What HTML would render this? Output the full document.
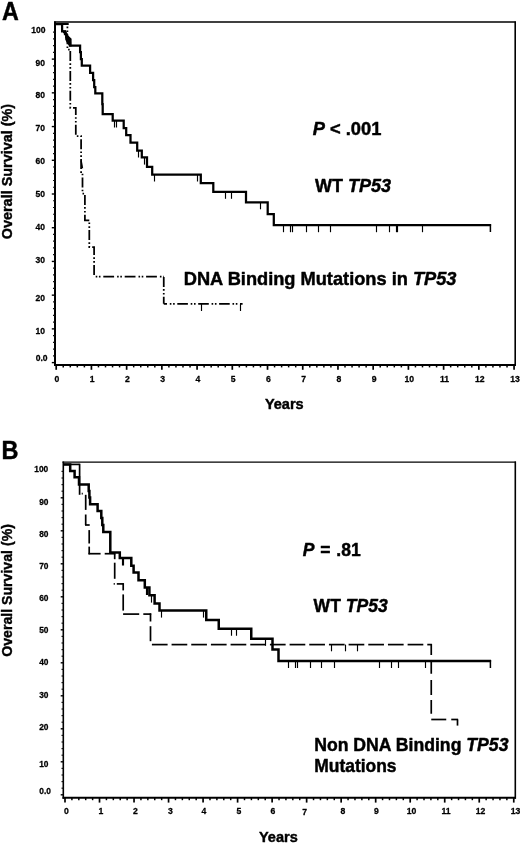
<!DOCTYPE html>
<html><head><meta charset="utf-8"><title>Kaplan-Meier overall survival</title>
<style>html,body{margin:0;padding:0;background:#fff}body{width:520px;height:843px;overflow:hidden;font-family:"Liberation Sans", sans-serif}svg{display:block;filter:grayscale(1) blur(0.3px)}</style>
</head><body>
<svg width="520" height="843" viewBox="0 0 520 843" font-family='"Liberation Sans", sans-serif' fill="#000">
<rect width="520" height="843" fill="#fff"/>
<line x1="54.00" y1="22.10" x2="515.90" y2="22.10" stroke="#000" stroke-width="1.5" />
<line x1="515.20" y1="21.40" x2="515.20" y2="366.00" stroke="#000" stroke-width="1.6" />
<line x1="55.00" y1="21.60" x2="55.00" y2="366.00" stroke="#000" stroke-width="2.0" />
<line x1="54.00" y1="365.00" x2="515.80" y2="365.00" stroke="#000" stroke-width="2.0" />
<line x1="56.20" y1="365.00" x2="56.20" y2="369.80" stroke="#000" stroke-width="1.7" />
<line x1="63.24" y1="365.00" x2="63.24" y2="367.40" stroke="#000" stroke-width="1.5" />
<line x1="70.29" y1="365.00" x2="70.29" y2="367.40" stroke="#000" stroke-width="1.5" />
<line x1="77.33" y1="365.00" x2="77.33" y2="367.40" stroke="#000" stroke-width="1.5" />
<line x1="84.38" y1="365.00" x2="84.38" y2="367.40" stroke="#000" stroke-width="1.5" />
<line x1="91.42" y1="365.00" x2="91.42" y2="369.80" stroke="#000" stroke-width="1.7" />
<line x1="98.46" y1="365.00" x2="98.46" y2="367.40" stroke="#000" stroke-width="1.5" />
<line x1="105.51" y1="365.00" x2="105.51" y2="367.40" stroke="#000" stroke-width="1.5" />
<line x1="112.55" y1="365.00" x2="112.55" y2="367.40" stroke="#000" stroke-width="1.5" />
<line x1="119.60" y1="365.00" x2="119.60" y2="367.40" stroke="#000" stroke-width="1.5" />
<line x1="126.64" y1="365.00" x2="126.64" y2="369.80" stroke="#000" stroke-width="1.7" />
<line x1="133.68" y1="365.00" x2="133.68" y2="367.40" stroke="#000" stroke-width="1.5" />
<line x1="140.73" y1="365.00" x2="140.73" y2="367.40" stroke="#000" stroke-width="1.5" />
<line x1="147.77" y1="365.00" x2="147.77" y2="367.40" stroke="#000" stroke-width="1.5" />
<line x1="154.82" y1="365.00" x2="154.82" y2="367.40" stroke="#000" stroke-width="1.5" />
<line x1="161.86" y1="365.00" x2="161.86" y2="369.80" stroke="#000" stroke-width="1.7" />
<line x1="168.90" y1="365.00" x2="168.90" y2="367.40" stroke="#000" stroke-width="1.5" />
<line x1="175.95" y1="365.00" x2="175.95" y2="367.40" stroke="#000" stroke-width="1.5" />
<line x1="182.99" y1="365.00" x2="182.99" y2="367.40" stroke="#000" stroke-width="1.5" />
<line x1="190.04" y1="365.00" x2="190.04" y2="367.40" stroke="#000" stroke-width="1.5" />
<line x1="197.08" y1="365.00" x2="197.08" y2="369.80" stroke="#000" stroke-width="1.7" />
<line x1="204.12" y1="365.00" x2="204.12" y2="367.40" stroke="#000" stroke-width="1.5" />
<line x1="211.17" y1="365.00" x2="211.17" y2="367.40" stroke="#000" stroke-width="1.5" />
<line x1="218.21" y1="365.00" x2="218.21" y2="367.40" stroke="#000" stroke-width="1.5" />
<line x1="225.26" y1="365.00" x2="225.26" y2="367.40" stroke="#000" stroke-width="1.5" />
<line x1="232.30" y1="365.00" x2="232.30" y2="369.80" stroke="#000" stroke-width="1.7" />
<line x1="239.34" y1="365.00" x2="239.34" y2="367.40" stroke="#000" stroke-width="1.5" />
<line x1="246.39" y1="365.00" x2="246.39" y2="367.40" stroke="#000" stroke-width="1.5" />
<line x1="253.43" y1="365.00" x2="253.43" y2="367.40" stroke="#000" stroke-width="1.5" />
<line x1="260.48" y1="365.00" x2="260.48" y2="367.40" stroke="#000" stroke-width="1.5" />
<line x1="267.52" y1="365.00" x2="267.52" y2="369.80" stroke="#000" stroke-width="1.7" />
<line x1="274.56" y1="365.00" x2="274.56" y2="367.40" stroke="#000" stroke-width="1.5" />
<line x1="281.61" y1="365.00" x2="281.61" y2="367.40" stroke="#000" stroke-width="1.5" />
<line x1="288.65" y1="365.00" x2="288.65" y2="367.40" stroke="#000" stroke-width="1.5" />
<line x1="295.70" y1="365.00" x2="295.70" y2="367.40" stroke="#000" stroke-width="1.5" />
<line x1="302.74" y1="365.00" x2="302.74" y2="369.80" stroke="#000" stroke-width="1.7" />
<line x1="309.78" y1="365.00" x2="309.78" y2="367.40" stroke="#000" stroke-width="1.5" />
<line x1="316.83" y1="365.00" x2="316.83" y2="367.40" stroke="#000" stroke-width="1.5" />
<line x1="323.87" y1="365.00" x2="323.87" y2="367.40" stroke="#000" stroke-width="1.5" />
<line x1="330.92" y1="365.00" x2="330.92" y2="367.40" stroke="#000" stroke-width="1.5" />
<line x1="337.96" y1="365.00" x2="337.96" y2="369.80" stroke="#000" stroke-width="1.7" />
<line x1="345.00" y1="365.00" x2="345.00" y2="367.40" stroke="#000" stroke-width="1.5" />
<line x1="352.05" y1="365.00" x2="352.05" y2="367.40" stroke="#000" stroke-width="1.5" />
<line x1="359.09" y1="365.00" x2="359.09" y2="367.40" stroke="#000" stroke-width="1.5" />
<line x1="366.14" y1="365.00" x2="366.14" y2="367.40" stroke="#000" stroke-width="1.5" />
<line x1="373.18" y1="365.00" x2="373.18" y2="369.80" stroke="#000" stroke-width="1.7" />
<line x1="380.22" y1="365.00" x2="380.22" y2="367.40" stroke="#000" stroke-width="1.5" />
<line x1="387.27" y1="365.00" x2="387.27" y2="367.40" stroke="#000" stroke-width="1.5" />
<line x1="394.31" y1="365.00" x2="394.31" y2="367.40" stroke="#000" stroke-width="1.5" />
<line x1="401.36" y1="365.00" x2="401.36" y2="367.40" stroke="#000" stroke-width="1.5" />
<line x1="408.40" y1="365.00" x2="408.40" y2="369.80" stroke="#000" stroke-width="1.7" />
<line x1="415.44" y1="365.00" x2="415.44" y2="367.40" stroke="#000" stroke-width="1.5" />
<line x1="422.49" y1="365.00" x2="422.49" y2="367.40" stroke="#000" stroke-width="1.5" />
<line x1="429.53" y1="365.00" x2="429.53" y2="367.40" stroke="#000" stroke-width="1.5" />
<line x1="436.58" y1="365.00" x2="436.58" y2="367.40" stroke="#000" stroke-width="1.5" />
<line x1="443.62" y1="365.00" x2="443.62" y2="369.80" stroke="#000" stroke-width="1.7" />
<line x1="450.66" y1="365.00" x2="450.66" y2="367.40" stroke="#000" stroke-width="1.5" />
<line x1="457.71" y1="365.00" x2="457.71" y2="367.40" stroke="#000" stroke-width="1.5" />
<line x1="464.75" y1="365.00" x2="464.75" y2="367.40" stroke="#000" stroke-width="1.5" />
<line x1="471.80" y1="365.00" x2="471.80" y2="367.40" stroke="#000" stroke-width="1.5" />
<line x1="478.84" y1="365.00" x2="478.84" y2="369.80" stroke="#000" stroke-width="1.7" />
<line x1="485.88" y1="365.00" x2="485.88" y2="367.40" stroke="#000" stroke-width="1.5" />
<line x1="492.93" y1="365.00" x2="492.93" y2="367.40" stroke="#000" stroke-width="1.5" />
<line x1="499.97" y1="365.00" x2="499.97" y2="367.40" stroke="#000" stroke-width="1.5" />
<line x1="507.02" y1="365.00" x2="507.02" y2="367.40" stroke="#000" stroke-width="1.5" />
<line x1="514.06" y1="365.00" x2="514.06" y2="369.80" stroke="#000" stroke-width="1.7" />
<line x1="53.00" y1="32.14" x2="55.00" y2="32.14" stroke="#111" stroke-width="1.2" />
<line x1="53.00" y1="38.89" x2="55.00" y2="38.89" stroke="#111" stroke-width="1.2" />
<line x1="53.00" y1="45.63" x2="55.00" y2="45.63" stroke="#111" stroke-width="1.2" />
<line x1="53.00" y1="52.38" x2="55.00" y2="52.38" stroke="#111" stroke-width="1.2" />
<line x1="51.80" y1="59.12" x2="55.00" y2="59.12" stroke="#000" stroke-width="1.4" />
<line x1="53.00" y1="65.86" x2="55.00" y2="65.86" stroke="#111" stroke-width="1.2" />
<line x1="53.00" y1="72.61" x2="55.00" y2="72.61" stroke="#111" stroke-width="1.2" />
<line x1="53.00" y1="79.35" x2="55.00" y2="79.35" stroke="#111" stroke-width="1.2" />
<line x1="53.00" y1="86.10" x2="55.00" y2="86.10" stroke="#111" stroke-width="1.2" />
<line x1="51.80" y1="92.84" x2="55.00" y2="92.84" stroke="#000" stroke-width="1.4" />
<line x1="53.00" y1="99.58" x2="55.00" y2="99.58" stroke="#111" stroke-width="1.2" />
<line x1="53.00" y1="106.33" x2="55.00" y2="106.33" stroke="#111" stroke-width="1.2" />
<line x1="53.00" y1="113.07" x2="55.00" y2="113.07" stroke="#111" stroke-width="1.2" />
<line x1="53.00" y1="119.82" x2="55.00" y2="119.82" stroke="#111" stroke-width="1.2" />
<line x1="51.80" y1="126.56" x2="55.00" y2="126.56" stroke="#000" stroke-width="1.4" />
<line x1="53.00" y1="133.30" x2="55.00" y2="133.30" stroke="#111" stroke-width="1.2" />
<line x1="53.00" y1="140.05" x2="55.00" y2="140.05" stroke="#111" stroke-width="1.2" />
<line x1="53.00" y1="146.79" x2="55.00" y2="146.79" stroke="#111" stroke-width="1.2" />
<line x1="53.00" y1="153.54" x2="55.00" y2="153.54" stroke="#111" stroke-width="1.2" />
<line x1="51.80" y1="160.28" x2="55.00" y2="160.28" stroke="#000" stroke-width="1.4" />
<line x1="53.00" y1="167.02" x2="55.00" y2="167.02" stroke="#111" stroke-width="1.2" />
<line x1="53.00" y1="173.77" x2="55.00" y2="173.77" stroke="#111" stroke-width="1.2" />
<line x1="53.00" y1="180.51" x2="55.00" y2="180.51" stroke="#111" stroke-width="1.2" />
<line x1="53.00" y1="187.26" x2="55.00" y2="187.26" stroke="#111" stroke-width="1.2" />
<line x1="51.80" y1="194.00" x2="55.00" y2="194.00" stroke="#000" stroke-width="1.4" />
<line x1="53.00" y1="200.74" x2="55.00" y2="200.74" stroke="#111" stroke-width="1.2" />
<line x1="53.00" y1="207.49" x2="55.00" y2="207.49" stroke="#111" stroke-width="1.2" />
<line x1="53.00" y1="214.23" x2="55.00" y2="214.23" stroke="#111" stroke-width="1.2" />
<line x1="53.00" y1="220.98" x2="55.00" y2="220.98" stroke="#111" stroke-width="1.2" />
<line x1="51.80" y1="227.72" x2="55.00" y2="227.72" stroke="#000" stroke-width="1.4" />
<line x1="53.00" y1="234.46" x2="55.00" y2="234.46" stroke="#111" stroke-width="1.2" />
<line x1="53.00" y1="241.21" x2="55.00" y2="241.21" stroke="#111" stroke-width="1.2" />
<line x1="53.00" y1="247.95" x2="55.00" y2="247.95" stroke="#111" stroke-width="1.2" />
<line x1="53.00" y1="254.70" x2="55.00" y2="254.70" stroke="#111" stroke-width="1.2" />
<line x1="51.80" y1="261.44" x2="55.00" y2="261.44" stroke="#000" stroke-width="1.4" />
<line x1="53.00" y1="268.18" x2="55.00" y2="268.18" stroke="#111" stroke-width="1.2" />
<line x1="53.00" y1="274.93" x2="55.00" y2="274.93" stroke="#111" stroke-width="1.2" />
<line x1="53.00" y1="281.67" x2="55.00" y2="281.67" stroke="#111" stroke-width="1.2" />
<line x1="53.00" y1="288.42" x2="55.00" y2="288.42" stroke="#111" stroke-width="1.2" />
<line x1="51.80" y1="295.16" x2="55.00" y2="295.16" stroke="#000" stroke-width="1.4" />
<line x1="53.00" y1="301.90" x2="55.00" y2="301.90" stroke="#111" stroke-width="1.2" />
<line x1="53.00" y1="308.65" x2="55.00" y2="308.65" stroke="#111" stroke-width="1.2" />
<line x1="53.00" y1="315.39" x2="55.00" y2="315.39" stroke="#111" stroke-width="1.2" />
<line x1="53.00" y1="322.14" x2="55.00" y2="322.14" stroke="#111" stroke-width="1.2" />
<line x1="51.80" y1="328.88" x2="55.00" y2="328.88" stroke="#000" stroke-width="1.4" />
<line x1="53.00" y1="335.62" x2="55.00" y2="335.62" stroke="#111" stroke-width="1.2" />
<line x1="53.00" y1="342.37" x2="55.00" y2="342.37" stroke="#111" stroke-width="1.2" />
<line x1="53.00" y1="349.11" x2="55.00" y2="349.11" stroke="#111" stroke-width="1.2" />
<line x1="53.00" y1="355.86" x2="55.00" y2="355.86" stroke="#111" stroke-width="1.2" />
<line x1="51.80" y1="362.60" x2="55.00" y2="362.60" stroke="#000" stroke-width="1.4" />
<line x1="62.50" y1="462.10" x2="516.00" y2="462.10" stroke="#000" stroke-width="1.25" />
<line x1="515.30" y1="461.40" x2="515.30" y2="798.80" stroke="#000" stroke-width="1.6" />
<line x1="63.30" y1="461.60" x2="63.30" y2="798.80" stroke="#000" stroke-width="1.6" />
<line x1="62.50" y1="797.80" x2="515.90" y2="797.80" stroke="#000" stroke-width="2.0" />
<line x1="65.00" y1="797.80" x2="65.00" y2="802.60" stroke="#000" stroke-width="1.7" />
<line x1="71.90" y1="797.80" x2="71.90" y2="800.20" stroke="#000" stroke-width="1.5" />
<line x1="78.81" y1="797.80" x2="78.81" y2="800.20" stroke="#000" stroke-width="1.5" />
<line x1="85.71" y1="797.80" x2="85.71" y2="800.20" stroke="#000" stroke-width="1.5" />
<line x1="92.62" y1="797.80" x2="92.62" y2="800.20" stroke="#000" stroke-width="1.5" />
<line x1="99.52" y1="797.80" x2="99.52" y2="802.60" stroke="#000" stroke-width="1.7" />
<line x1="106.42" y1="797.80" x2="106.42" y2="800.20" stroke="#000" stroke-width="1.5" />
<line x1="113.33" y1="797.80" x2="113.33" y2="800.20" stroke="#000" stroke-width="1.5" />
<line x1="120.23" y1="797.80" x2="120.23" y2="800.20" stroke="#000" stroke-width="1.5" />
<line x1="127.14" y1="797.80" x2="127.14" y2="800.20" stroke="#000" stroke-width="1.5" />
<line x1="134.04" y1="797.80" x2="134.04" y2="802.60" stroke="#000" stroke-width="1.7" />
<line x1="140.94" y1="797.80" x2="140.94" y2="800.20" stroke="#000" stroke-width="1.5" />
<line x1="147.85" y1="797.80" x2="147.85" y2="800.20" stroke="#000" stroke-width="1.5" />
<line x1="154.75" y1="797.80" x2="154.75" y2="800.20" stroke="#000" stroke-width="1.5" />
<line x1="161.66" y1="797.80" x2="161.66" y2="800.20" stroke="#000" stroke-width="1.5" />
<line x1="168.56" y1="797.80" x2="168.56" y2="802.60" stroke="#000" stroke-width="1.7" />
<line x1="175.46" y1="797.80" x2="175.46" y2="800.20" stroke="#000" stroke-width="1.5" />
<line x1="182.37" y1="797.80" x2="182.37" y2="800.20" stroke="#000" stroke-width="1.5" />
<line x1="189.27" y1="797.80" x2="189.27" y2="800.20" stroke="#000" stroke-width="1.5" />
<line x1="196.18" y1="797.80" x2="196.18" y2="800.20" stroke="#000" stroke-width="1.5" />
<line x1="203.08" y1="797.80" x2="203.08" y2="802.60" stroke="#000" stroke-width="1.7" />
<line x1="209.98" y1="797.80" x2="209.98" y2="800.20" stroke="#000" stroke-width="1.5" />
<line x1="216.89" y1="797.80" x2="216.89" y2="800.20" stroke="#000" stroke-width="1.5" />
<line x1="223.79" y1="797.80" x2="223.79" y2="800.20" stroke="#000" stroke-width="1.5" />
<line x1="230.70" y1="797.80" x2="230.70" y2="800.20" stroke="#000" stroke-width="1.5" />
<line x1="237.60" y1="797.80" x2="237.60" y2="802.60" stroke="#000" stroke-width="1.7" />
<line x1="244.50" y1="797.80" x2="244.50" y2="800.20" stroke="#000" stroke-width="1.5" />
<line x1="251.41" y1="797.80" x2="251.41" y2="800.20" stroke="#000" stroke-width="1.5" />
<line x1="258.31" y1="797.80" x2="258.31" y2="800.20" stroke="#000" stroke-width="1.5" />
<line x1="265.22" y1="797.80" x2="265.22" y2="800.20" stroke="#000" stroke-width="1.5" />
<line x1="272.12" y1="797.80" x2="272.12" y2="802.60" stroke="#000" stroke-width="1.7" />
<line x1="279.02" y1="797.80" x2="279.02" y2="800.20" stroke="#000" stroke-width="1.5" />
<line x1="285.93" y1="797.80" x2="285.93" y2="800.20" stroke="#000" stroke-width="1.5" />
<line x1="292.83" y1="797.80" x2="292.83" y2="800.20" stroke="#000" stroke-width="1.5" />
<line x1="299.74" y1="797.80" x2="299.74" y2="800.20" stroke="#000" stroke-width="1.5" />
<line x1="306.64" y1="797.80" x2="306.64" y2="802.60" stroke="#000" stroke-width="1.7" />
<line x1="313.54" y1="797.80" x2="313.54" y2="800.20" stroke="#000" stroke-width="1.5" />
<line x1="320.45" y1="797.80" x2="320.45" y2="800.20" stroke="#000" stroke-width="1.5" />
<line x1="327.35" y1="797.80" x2="327.35" y2="800.20" stroke="#000" stroke-width="1.5" />
<line x1="334.26" y1="797.80" x2="334.26" y2="800.20" stroke="#000" stroke-width="1.5" />
<line x1="341.16" y1="797.80" x2="341.16" y2="802.60" stroke="#000" stroke-width="1.7" />
<line x1="348.06" y1="797.80" x2="348.06" y2="800.20" stroke="#000" stroke-width="1.5" />
<line x1="354.97" y1="797.80" x2="354.97" y2="800.20" stroke="#000" stroke-width="1.5" />
<line x1="361.87" y1="797.80" x2="361.87" y2="800.20" stroke="#000" stroke-width="1.5" />
<line x1="368.78" y1="797.80" x2="368.78" y2="800.20" stroke="#000" stroke-width="1.5" />
<line x1="375.68" y1="797.80" x2="375.68" y2="802.60" stroke="#000" stroke-width="1.7" />
<line x1="382.58" y1="797.80" x2="382.58" y2="800.20" stroke="#000" stroke-width="1.5" />
<line x1="389.49" y1="797.80" x2="389.49" y2="800.20" stroke="#000" stroke-width="1.5" />
<line x1="396.39" y1="797.80" x2="396.39" y2="800.20" stroke="#000" stroke-width="1.5" />
<line x1="403.30" y1="797.80" x2="403.30" y2="800.20" stroke="#000" stroke-width="1.5" />
<line x1="410.20" y1="797.80" x2="410.20" y2="802.60" stroke="#000" stroke-width="1.7" />
<line x1="417.10" y1="797.80" x2="417.10" y2="800.20" stroke="#000" stroke-width="1.5" />
<line x1="424.01" y1="797.80" x2="424.01" y2="800.20" stroke="#000" stroke-width="1.5" />
<line x1="430.91" y1="797.80" x2="430.91" y2="800.20" stroke="#000" stroke-width="1.5" />
<line x1="437.82" y1="797.80" x2="437.82" y2="800.20" stroke="#000" stroke-width="1.5" />
<line x1="444.72" y1="797.80" x2="444.72" y2="802.60" stroke="#000" stroke-width="1.7" />
<line x1="451.62" y1="797.80" x2="451.62" y2="800.20" stroke="#000" stroke-width="1.5" />
<line x1="458.53" y1="797.80" x2="458.53" y2="800.20" stroke="#000" stroke-width="1.5" />
<line x1="465.43" y1="797.80" x2="465.43" y2="800.20" stroke="#000" stroke-width="1.5" />
<line x1="472.34" y1="797.80" x2="472.34" y2="800.20" stroke="#000" stroke-width="1.5" />
<line x1="479.24" y1="797.80" x2="479.24" y2="802.60" stroke="#000" stroke-width="1.7" />
<line x1="486.14" y1="797.80" x2="486.14" y2="800.20" stroke="#000" stroke-width="1.5" />
<line x1="493.05" y1="797.80" x2="493.05" y2="800.20" stroke="#000" stroke-width="1.5" />
<line x1="499.95" y1="797.80" x2="499.95" y2="800.20" stroke="#000" stroke-width="1.5" />
<line x1="506.86" y1="797.80" x2="506.86" y2="800.20" stroke="#000" stroke-width="1.5" />
<line x1="513.76" y1="797.80" x2="513.76" y2="802.60" stroke="#000" stroke-width="1.7" />
<line x1="61.50" y1="471.40" x2="63.30" y2="471.40" stroke="#111" stroke-width="1.2" />
<line x1="61.50" y1="478.00" x2="63.30" y2="478.00" stroke="#111" stroke-width="1.2" />
<line x1="61.50" y1="484.60" x2="63.30" y2="484.60" stroke="#111" stroke-width="1.2" />
<line x1="61.50" y1="491.20" x2="63.30" y2="491.20" stroke="#111" stroke-width="1.2" />
<line x1="60.70" y1="497.80" x2="63.30" y2="497.80" stroke="#000" stroke-width="1.4" />
<line x1="61.50" y1="504.40" x2="63.30" y2="504.40" stroke="#111" stroke-width="1.2" />
<line x1="61.50" y1="511.00" x2="63.30" y2="511.00" stroke="#111" stroke-width="1.2" />
<line x1="61.50" y1="517.60" x2="63.30" y2="517.60" stroke="#111" stroke-width="1.2" />
<line x1="61.50" y1="524.20" x2="63.30" y2="524.20" stroke="#111" stroke-width="1.2" />
<line x1="60.70" y1="530.80" x2="63.30" y2="530.80" stroke="#000" stroke-width="1.4" />
<line x1="61.50" y1="537.40" x2="63.30" y2="537.40" stroke="#111" stroke-width="1.2" />
<line x1="61.50" y1="544.00" x2="63.30" y2="544.00" stroke="#111" stroke-width="1.2" />
<line x1="61.50" y1="550.60" x2="63.30" y2="550.60" stroke="#111" stroke-width="1.2" />
<line x1="61.50" y1="557.20" x2="63.30" y2="557.20" stroke="#111" stroke-width="1.2" />
<line x1="60.70" y1="563.80" x2="63.30" y2="563.80" stroke="#000" stroke-width="1.4" />
<line x1="61.50" y1="570.40" x2="63.30" y2="570.40" stroke="#111" stroke-width="1.2" />
<line x1="61.50" y1="577.00" x2="63.30" y2="577.00" stroke="#111" stroke-width="1.2" />
<line x1="61.50" y1="583.60" x2="63.30" y2="583.60" stroke="#111" stroke-width="1.2" />
<line x1="61.50" y1="590.20" x2="63.30" y2="590.20" stroke="#111" stroke-width="1.2" />
<line x1="60.70" y1="596.80" x2="63.30" y2="596.80" stroke="#000" stroke-width="1.4" />
<line x1="61.50" y1="603.40" x2="63.30" y2="603.40" stroke="#111" stroke-width="1.2" />
<line x1="61.50" y1="610.00" x2="63.30" y2="610.00" stroke="#111" stroke-width="1.2" />
<line x1="61.50" y1="616.60" x2="63.30" y2="616.60" stroke="#111" stroke-width="1.2" />
<line x1="61.50" y1="623.20" x2="63.30" y2="623.20" stroke="#111" stroke-width="1.2" />
<line x1="60.70" y1="629.80" x2="63.30" y2="629.80" stroke="#000" stroke-width="1.4" />
<line x1="61.50" y1="636.40" x2="63.30" y2="636.40" stroke="#111" stroke-width="1.2" />
<line x1="61.50" y1="643.00" x2="63.30" y2="643.00" stroke="#111" stroke-width="1.2" />
<line x1="61.50" y1="649.60" x2="63.30" y2="649.60" stroke="#111" stroke-width="1.2" />
<line x1="61.50" y1="656.20" x2="63.30" y2="656.20" stroke="#111" stroke-width="1.2" />
<line x1="60.70" y1="662.80" x2="63.30" y2="662.80" stroke="#000" stroke-width="1.4" />
<line x1="61.50" y1="669.40" x2="63.30" y2="669.40" stroke="#111" stroke-width="1.2" />
<line x1="61.50" y1="676.00" x2="63.30" y2="676.00" stroke="#111" stroke-width="1.2" />
<line x1="61.50" y1="682.60" x2="63.30" y2="682.60" stroke="#111" stroke-width="1.2" />
<line x1="61.50" y1="689.20" x2="63.30" y2="689.20" stroke="#111" stroke-width="1.2" />
<line x1="60.70" y1="695.80" x2="63.30" y2="695.80" stroke="#000" stroke-width="1.4" />
<line x1="61.50" y1="702.40" x2="63.30" y2="702.40" stroke="#111" stroke-width="1.2" />
<line x1="61.50" y1="709.00" x2="63.30" y2="709.00" stroke="#111" stroke-width="1.2" />
<line x1="61.50" y1="715.60" x2="63.30" y2="715.60" stroke="#111" stroke-width="1.2" />
<line x1="61.50" y1="722.20" x2="63.30" y2="722.20" stroke="#111" stroke-width="1.2" />
<line x1="60.70" y1="728.80" x2="63.30" y2="728.80" stroke="#000" stroke-width="1.4" />
<line x1="61.50" y1="735.40" x2="63.30" y2="735.40" stroke="#111" stroke-width="1.2" />
<line x1="61.50" y1="742.00" x2="63.30" y2="742.00" stroke="#111" stroke-width="1.2" />
<line x1="61.50" y1="748.60" x2="63.30" y2="748.60" stroke="#111" stroke-width="1.2" />
<line x1="61.50" y1="755.20" x2="63.30" y2="755.20" stroke="#111" stroke-width="1.2" />
<line x1="60.70" y1="761.80" x2="63.30" y2="761.80" stroke="#000" stroke-width="1.4" />
<line x1="61.50" y1="768.40" x2="63.30" y2="768.40" stroke="#111" stroke-width="1.2" />
<line x1="61.50" y1="775.00" x2="63.30" y2="775.00" stroke="#111" stroke-width="1.2" />
<line x1="61.50" y1="781.60" x2="63.30" y2="781.60" stroke="#111" stroke-width="1.2" />
<line x1="61.50" y1="788.20" x2="63.30" y2="788.20" stroke="#111" stroke-width="1.2" />
<line x1="60.70" y1="794.80" x2="63.30" y2="794.80" stroke="#000" stroke-width="1.4" />
<text x="45.50" y="32.80" font-size="9" font-weight="bold" text-anchor="end" stroke="#000" stroke-width="0.28" stroke-linejoin="round"  transform="translate(45.50 0) scale(0.95 1) translate(-45.50 0)">100</text>
<text x="44.90" y="66.00" font-size="9" font-weight="bold" text-anchor="end" stroke="#000" stroke-width="0.28" stroke-linejoin="round"  transform="translate(44.90 0) scale(0.95 1) translate(-44.90 0)">90</text>
<text x="44.90" y="98.40" font-size="9" font-weight="bold" text-anchor="end" stroke="#000" stroke-width="0.28" stroke-linejoin="round"  transform="translate(44.90 0) scale(0.95 1) translate(-44.90 0)">80</text>
<text x="44.90" y="131.00" font-size="9" font-weight="bold" text-anchor="end" stroke="#000" stroke-width="0.28" stroke-linejoin="round"  transform="translate(44.90 0) scale(0.95 1) translate(-44.90 0)">70</text>
<text x="44.90" y="164.20" font-size="9" font-weight="bold" text-anchor="end" stroke="#000" stroke-width="0.28" stroke-linejoin="round"  transform="translate(44.90 0) scale(0.95 1) translate(-44.90 0)">60</text>
<text x="44.90" y="197.20" font-size="9" font-weight="bold" text-anchor="end" stroke="#000" stroke-width="0.28" stroke-linejoin="round"  transform="translate(44.90 0) scale(0.95 1) translate(-44.90 0)">50</text>
<text x="44.90" y="230.00" font-size="9" font-weight="bold" text-anchor="end" stroke="#000" stroke-width="0.28" stroke-linejoin="round"  transform="translate(44.90 0) scale(0.95 1) translate(-44.90 0)">40</text>
<text x="44.90" y="262.70" font-size="9" font-weight="bold" text-anchor="end" stroke="#000" stroke-width="0.28" stroke-linejoin="round"  transform="translate(44.90 0) scale(0.95 1) translate(-44.90 0)">30</text>
<text x="44.90" y="300.80" font-size="9" font-weight="bold" text-anchor="end" stroke="#000" stroke-width="0.28" stroke-linejoin="round"  transform="translate(44.90 0) scale(0.95 1) translate(-44.90 0)">20</text>
<text x="44.90" y="333.70" font-size="9" font-weight="bold" text-anchor="end" stroke="#000" stroke-width="0.28" stroke-linejoin="round"  transform="translate(44.90 0) scale(0.95 1) translate(-44.90 0)">10</text>
<text x="47.60" y="361.00" font-size="9" font-weight="bold" text-anchor="end" stroke="#000" stroke-width="0.28" stroke-linejoin="round"  transform="translate(47.60 0) scale(0.95 1) translate(-47.60 0)">0.0</text>
<text x="48.20" y="472.40" font-size="9" font-weight="bold" text-anchor="end" stroke="#000" stroke-width="0.28" stroke-linejoin="round"  transform="translate(48.20 0) scale(0.93 1) translate(-48.20 0)">100</text>
<text x="48.50" y="504.60" font-size="9" font-weight="bold" text-anchor="end" stroke="#000" stroke-width="0.28" stroke-linejoin="round"  transform="translate(48.50 0) scale(0.93 1) translate(-48.50 0)">90</text>
<text x="48.50" y="536.70" font-size="9" font-weight="bold" text-anchor="end" stroke="#000" stroke-width="0.28" stroke-linejoin="round"  transform="translate(48.50 0) scale(0.93 1) translate(-48.50 0)">80</text>
<text x="48.50" y="569.00" font-size="9" font-weight="bold" text-anchor="end" stroke="#000" stroke-width="0.28" stroke-linejoin="round"  transform="translate(48.50 0) scale(0.93 1) translate(-48.50 0)">70</text>
<text x="48.50" y="601.10" font-size="9" font-weight="bold" text-anchor="end" stroke="#000" stroke-width="0.28" stroke-linejoin="round"  transform="translate(48.50 0) scale(0.93 1) translate(-48.50 0)">60</text>
<text x="48.50" y="633.50" font-size="9" font-weight="bold" text-anchor="end" stroke="#000" stroke-width="0.28" stroke-linejoin="round"  transform="translate(48.50 0) scale(0.93 1) translate(-48.50 0)">50</text>
<text x="48.50" y="665.40" font-size="9" font-weight="bold" text-anchor="end" stroke="#000" stroke-width="0.28" stroke-linejoin="round"  transform="translate(48.50 0) scale(0.93 1) translate(-48.50 0)">40</text>
<text x="48.50" y="697.80" font-size="9" font-weight="bold" text-anchor="end" stroke="#000" stroke-width="0.28" stroke-linejoin="round"  transform="translate(48.50 0) scale(0.93 1) translate(-48.50 0)">30</text>
<text x="48.50" y="730.40" font-size="9" font-weight="bold" text-anchor="end" stroke="#000" stroke-width="0.28" stroke-linejoin="round"  transform="translate(48.50 0) scale(0.93 1) translate(-48.50 0)">20</text>
<text x="48.50" y="767.20" font-size="9" font-weight="bold" text-anchor="end" stroke="#000" stroke-width="0.28" stroke-linejoin="round"  transform="translate(48.50 0) scale(0.93 1) translate(-48.50 0)">10</text>
<text x="50.90" y="794.40" font-size="9" font-weight="bold" text-anchor="end" stroke="#000" stroke-width="0.28" stroke-linejoin="round"  transform="translate(50.90 0) scale(0.93 1) translate(-50.90 0)">0.0</text>
<text x="57.00" y="381.85" font-size="9" font-weight="bold" text-anchor="middle" stroke="#000" stroke-width="0.28" stroke-linejoin="round"  transform="translate(57.00 0) scale(0.96 1) translate(-57.00 0)">0</text>
<text x="92.23" y="381.85" font-size="9" font-weight="bold" text-anchor="middle" stroke="#000" stroke-width="0.28" stroke-linejoin="round"  transform="translate(92.23 0) scale(0.96 1) translate(-92.23 0)">1</text>
<text x="127.46" y="381.85" font-size="9" font-weight="bold" text-anchor="middle" stroke="#000" stroke-width="0.28" stroke-linejoin="round"  transform="translate(127.46 0) scale(0.96 1) translate(-127.46 0)">2</text>
<text x="162.69" y="381.85" font-size="9" font-weight="bold" text-anchor="middle" stroke="#000" stroke-width="0.28" stroke-linejoin="round"  transform="translate(162.69 0) scale(0.96 1) translate(-162.69 0)">3</text>
<text x="197.92" y="381.85" font-size="9" font-weight="bold" text-anchor="middle" stroke="#000" stroke-width="0.28" stroke-linejoin="round"  transform="translate(197.92 0) scale(0.96 1) translate(-197.92 0)">4</text>
<text x="233.15" y="381.85" font-size="9" font-weight="bold" text-anchor="middle" stroke="#000" stroke-width="0.28" stroke-linejoin="round"  transform="translate(233.15 0) scale(0.96 1) translate(-233.15 0)">5</text>
<text x="268.38" y="381.85" font-size="9" font-weight="bold" text-anchor="middle" stroke="#000" stroke-width="0.28" stroke-linejoin="round"  transform="translate(268.38 0) scale(0.96 1) translate(-268.38 0)">6</text>
<text x="303.61" y="381.85" font-size="9" font-weight="bold" text-anchor="middle" stroke="#000" stroke-width="0.28" stroke-linejoin="round"  transform="translate(303.61 0) scale(0.96 1) translate(-303.61 0)">7</text>
<text x="338.84" y="381.85" font-size="9" font-weight="bold" text-anchor="middle" stroke="#000" stroke-width="0.28" stroke-linejoin="round"  transform="translate(338.84 0) scale(0.96 1) translate(-338.84 0)">8</text>
<text x="374.07" y="381.85" font-size="9" font-weight="bold" text-anchor="middle" stroke="#000" stroke-width="0.28" stroke-linejoin="round"  transform="translate(374.07 0) scale(0.96 1) translate(-374.07 0)">9</text>
<text x="409.30" y="381.85" font-size="9" font-weight="bold" text-anchor="middle" stroke="#000" stroke-width="0.28" stroke-linejoin="round"  transform="translate(409.30 0) scale(0.96 1) translate(-409.30 0)">10</text>
<text x="444.53" y="381.85" font-size="9" font-weight="bold" text-anchor="middle" stroke="#000" stroke-width="0.28" stroke-linejoin="round"  transform="translate(444.53 0) scale(0.96 1) translate(-444.53 0)">11</text>
<text x="479.76" y="381.85" font-size="9" font-weight="bold" text-anchor="middle" stroke="#000" stroke-width="0.28" stroke-linejoin="round"  transform="translate(479.76 0) scale(0.96 1) translate(-479.76 0)">12</text>
<text x="514.99" y="381.85" font-size="9" font-weight="bold" text-anchor="middle" stroke="#000" stroke-width="0.28" stroke-linejoin="round"  transform="translate(514.99 0) scale(0.96 1) translate(-514.99 0)">13</text>
<text x="66.50" y="814.45" font-size="9" font-weight="bold" text-anchor="middle" stroke="#000" stroke-width="0.28" stroke-linejoin="round"  transform="translate(66.50 0) scale(0.96 1) translate(-66.50 0)">0</text>
<text x="101.00" y="814.45" font-size="9" font-weight="bold" text-anchor="middle" stroke="#000" stroke-width="0.28" stroke-linejoin="round"  transform="translate(101.00 0) scale(0.96 1) translate(-101.00 0)">1</text>
<text x="135.50" y="814.45" font-size="9" font-weight="bold" text-anchor="middle" stroke="#000" stroke-width="0.28" stroke-linejoin="round"  transform="translate(135.50 0) scale(0.96 1) translate(-135.50 0)">2</text>
<text x="170.50" y="814.45" font-size="9" font-weight="bold" text-anchor="middle" stroke="#000" stroke-width="0.28" stroke-linejoin="round"  transform="translate(170.50 0) scale(0.96 1) translate(-170.50 0)">3</text>
<text x="204.00" y="814.45" font-size="9" font-weight="bold" text-anchor="middle" stroke="#000" stroke-width="0.28" stroke-linejoin="round"  transform="translate(204.00 0) scale(0.96 1) translate(-204.00 0)">4</text>
<text x="239.00" y="814.45" font-size="9" font-weight="bold" text-anchor="middle" stroke="#000" stroke-width="0.28" stroke-linejoin="round"  transform="translate(239.00 0) scale(0.96 1) translate(-239.00 0)">5</text>
<text x="272.80" y="814.05" font-size="9" font-weight="bold" text-anchor="middle" stroke="#000" stroke-width="0.28" stroke-linejoin="round"  transform="translate(272.80 0) scale(0.96 1) translate(-272.80 0)">6</text>
<text x="304.70" y="815.05" font-size="9" font-weight="bold" text-anchor="middle" stroke="#000" stroke-width="0.28" stroke-linejoin="round"  transform="translate(304.70 0) scale(0.96 1) translate(-304.70 0)">7</text>
<text x="343.00" y="814.45" font-size="9" font-weight="bold" text-anchor="middle" stroke="#000" stroke-width="0.28" stroke-linejoin="round"  transform="translate(343.00 0) scale(0.96 1) translate(-343.00 0)">8</text>
<text x="376.50" y="814.45" font-size="9" font-weight="bold" text-anchor="middle" stroke="#000" stroke-width="0.28" stroke-linejoin="round"  transform="translate(376.50 0) scale(0.96 1) translate(-376.50 0)">9</text>
<text x="411.50" y="814.45" font-size="9" font-weight="bold" text-anchor="middle" stroke="#000" stroke-width="0.28" stroke-linejoin="round"  transform="translate(411.50 0) scale(0.96 1) translate(-411.50 0)">10</text>
<text x="446.00" y="814.45" font-size="9" font-weight="bold" text-anchor="middle" stroke="#000" stroke-width="0.28" stroke-linejoin="round"  transform="translate(446.00 0) scale(0.96 1) translate(-446.00 0)">11</text>
<text x="480.50" y="814.45" font-size="9" font-weight="bold" text-anchor="middle" stroke="#000" stroke-width="0.28" stroke-linejoin="round"  transform="translate(480.50 0) scale(0.96 1) translate(-480.50 0)">12</text>
<text x="515.50" y="814.45" font-size="9" font-weight="bold" text-anchor="middle" stroke="#000" stroke-width="0.28" stroke-linejoin="round"  transform="translate(515.50 0) scale(0.96 1) translate(-515.50 0)">13</text>
<text x="2.00" y="20.20" font-size="25" font-weight="bold" text-anchor="start" stroke="#000" stroke-width="0.45" stroke-linejoin="round"  transform="translate(2.00 0) scale(0.93 1) translate(-2.00 0)">A</text>
<text x="1.60" y="458.80" font-size="25" font-weight="bold" text-anchor="start" stroke="#000" stroke-width="0.45" stroke-linejoin="round"  transform="translate(1.60 0) scale(0.94 1) translate(-1.60 0)">B</text>
<text x="284.30" y="409.40" font-size="15" font-weight="bold" text-anchor="middle" stroke="#000" stroke-width="0.45" stroke-linejoin="round"  transform="translate(284.30 0) scale(0.97 1) translate(-284.30 0)">Years</text>
<text x="278.40" y="841.60" font-size="15" font-weight="bold" text-anchor="middle" stroke="#000" stroke-width="0.45" stroke-linejoin="round"  transform="translate(278.40 0) scale(0.97 1) translate(-278.40 0)">Years</text>
<text transform="translate(12.1 171.55) rotate(-90) scale(0.955 1)" font-size="15.1" font-weight="bold" stroke="#000" stroke-width="0.4" text-anchor="middle">Overall Survival (%)</text>
<text transform="translate(12.1 590.45) rotate(-90) scale(0.955 1)" font-size="14.8" font-weight="bold" stroke="#000" stroke-width="0.4" text-anchor="middle">Overall Survival (%)</text>
<text x="312.70" y="135.00" font-size="18.0" font-weight="bold" text-anchor="start" stroke="#000" stroke-width="0.45" stroke-linejoin="round"  transform="translate(312.70 0) scale(1.017 1) translate(-312.70 0)"><tspan font-style="italic">P</tspan> &lt; .001</text>
<text x="315.10" y="191.50" font-size="18.0" font-weight="bold" text-anchor="start" stroke="#000" stroke-width="0.45" stroke-linejoin="round" >WT <tspan font-style="italic">TP53</tspan></text>
<text x="183.80" y="285.10" font-size="18.0" font-weight="bold" text-anchor="start" stroke="#000" stroke-width="0.45" stroke-linejoin="round"  transform="translate(183.80 0) scale(1.013 1) translate(-183.80 0)">DNA Binding Mutations in <tspan font-style="italic">TP53</tspan></text>
<text x="302.70" y="556.00" font-size="18.0" font-weight="bold" text-anchor="start" stroke="#000" stroke-width="0.45" stroke-linejoin="round" word-spacing="1.0" transform="translate(302.70 0) scale(0.975 1) translate(-302.70 0)"><tspan font-style="italic">P</tspan> =&#160;.81</text>
<text x="313.60" y="612.30" font-size="18.0" font-weight="bold" text-anchor="start" stroke="#000" stroke-width="0.45" stroke-linejoin="round"  transform="translate(313.60 0) scale(0.975 1) translate(-313.60 0)">WT <tspan font-style="italic">TP53</tspan></text>
<text x="314.20" y="750.60" font-size="18.0" font-weight="bold" text-anchor="start" stroke="#000" stroke-width="0.45" stroke-linejoin="round"  transform="translate(314.20 0) scale(0.98 1) translate(-314.20 0)">Non DNA Binding <tspan font-style="italic">TP53</tspan></text>
<text x="314.20" y="771.80" font-size="18.0" font-weight="bold" text-anchor="start" stroke="#000" stroke-width="0.45" stroke-linejoin="round"  transform="translate(314.20 0) scale(0.97 1) translate(-314.20 0)">Mutations</text>
<polygon points="63,30.6 66.0,30.6 68.2,35.4 71.6,38.8 71.6,46.5 69.4,46.5 66.7,42.6 65.2,39.6 65.2,33.2 63,33.2" fill="#000"/>
<path d="M55,24 H62.1 V31.4 H65 V34 H66.3 V37 H67.6 V40 H68.8 V42.8 H70 V45.5 H80.1 V52 H80.9 V59 H81.8 V65.7 H90.1 V72.8 H93.1 V80 H94.2 V87 H95.3 V93.4 H102.3 V104 H102.7 V114.2 H112.7 V120.5 H123.7 V128 H126.2 V135.1 H130.5 V142.7 H137.2 V150.5 H141.8 V157.4 H147 V166.9 H152.2 V174.5 H200.8 V183.2 H213.3 V191.8 H246 V202.3 H267.7 V214.2 H273.8 V225.2 H491.1" fill="none" stroke="#000" stroke-width="2.25" stroke-linejoin="miter" />
<line x1="490.40" y1="224.20" x2="490.40" y2="232.00" stroke="#000" stroke-width="1.5" />
<line x1="114.50" y1="120.50" x2="114.50" y2="127.50" stroke="#000" stroke-width="1.15" />
<line x1="116.50" y1="120.50" x2="116.50" y2="127.50" stroke="#000" stroke-width="1.15" />
<line x1="138.50" y1="150.50" x2="138.50" y2="157.50" stroke="#000" stroke-width="1.15" />
<line x1="144.50" y1="157.60" x2="144.50" y2="164.60" stroke="#000" stroke-width="1.15" />
<line x1="154.50" y1="174.50" x2="154.50" y2="181.50" stroke="#000" stroke-width="1.15" />
<line x1="197.50" y1="174.50" x2="197.50" y2="181.50" stroke="#000" stroke-width="1.15" />
<line x1="225.50" y1="191.80" x2="225.50" y2="198.80" stroke="#000" stroke-width="1.15" />
<line x1="231.50" y1="191.80" x2="231.50" y2="198.80" stroke="#000" stroke-width="1.15" />
<line x1="260.50" y1="202.30" x2="260.50" y2="209.30" stroke="#000" stroke-width="1.15" />
<line x1="283.50" y1="225.20" x2="283.50" y2="232.20" stroke="#000" stroke-width="1.15" />
<line x1="290.50" y1="225.20" x2="290.50" y2="232.20" stroke="#000" stroke-width="1.15" />
<line x1="292.50" y1="225.20" x2="292.50" y2="232.20" stroke="#000" stroke-width="1.15" />
<line x1="306.50" y1="225.20" x2="306.50" y2="232.20" stroke="#000" stroke-width="1.15" />
<line x1="318.50" y1="225.20" x2="318.50" y2="232.20" stroke="#000" stroke-width="1.15" />
<line x1="330.50" y1="225.20" x2="330.50" y2="232.20" stroke="#000" stroke-width="1.15" />
<line x1="376.50" y1="225.20" x2="376.50" y2="232.20" stroke="#000" stroke-width="1.15" />
<line x1="389.50" y1="225.20" x2="389.50" y2="232.20" stroke="#000" stroke-width="1.15" />
<line x1="396.50" y1="225.20" x2="396.50" y2="232.20" stroke="#000" stroke-width="1.15" />
<line x1="397.50" y1="225.20" x2="397.50" y2="232.20" stroke="#000" stroke-width="1.15" />
<line x1="422.50" y1="225.20" x2="422.50" y2="232.20" stroke="#000" stroke-width="1.15" />
<line x1="55.00" y1="24.00" x2="68.70" y2="24.00" stroke="#000" stroke-width="2.0" />
<path d="M67.4,24 V49.5 H70.3 V107.8 H75.8 V136 H81.1 V172 H82.5 V193.5 H84.9 V220.3 H89.3 V247 H94.1 V276.5" fill="none" stroke="#000" stroke-width="1.75" stroke-linejoin="miter" stroke-dasharray="10 2.2 1.6 2.2 1.6 2.2" stroke-dashoffset="9.6"/>
<path d="M94.1,276.5 H163.75" fill="none" stroke="#000" stroke-width="1.75" stroke-linejoin="miter" stroke-dasharray="10.8 3.0 1.6 1.6 1.6 2.8" stroke-dashoffset="12.2"/>
<path d="M163.75,276.5 V303.75" fill="none" stroke="#000" stroke-width="1.75" stroke-linejoin="miter" stroke-dasharray="10 2.2 1.6 2.2 1.6 2.2" stroke-dashoffset="19.4"/>
<path d="M163.75,303.75 H242.6" fill="none" stroke="#000" stroke-width="1.75" stroke-linejoin="miter" stroke-dasharray="10.6 2.8 1.6 1.7 1.6 2.6" stroke-dashoffset="7.35"/>
<polygon points="80.4,160.5 81.8,160.5 83.2,168.3 81.8,168.3" fill="#000"/>
<line x1="201.50" y1="303.75" x2="201.50" y2="311.00" stroke="#000" stroke-width="1.15" />
<line x1="240.50" y1="303.75" x2="240.50" y2="311.00" stroke="#000" stroke-width="1.15" />
<path d="M63.3,464.4 H70.2 V471 H74.6 V477.2 H79 V484.6 H88.7 V491 H89.4 V497.5 H90.1 V504.2 H97.6 V510.9 H101.3 V518 H102.3 V525 H103.3 V532 H110.3 V552.6 H119.8 V558 H131.3 V565.8 H133.6 V572.5 H138.5 V580.2 H144.8 V587.5 H149.4 V595.2 H154.6 V603.6 H159.5 V610.6 H206.25 V620 H218.75 V628.75 H251.25 V638.75 H272.5 V649.5 H278.5 V661 H491.1" fill="none" stroke="#000" stroke-width="2.5" stroke-linejoin="miter" />
<line x1="490.40" y1="660.00" x2="490.40" y2="668.00" stroke="#000" stroke-width="1.5" />
<line x1="122.50" y1="558.50" x2="122.50" y2="565.50" stroke="#000" stroke-width="1.15" />
<line x1="123.50" y1="558.50" x2="123.50" y2="565.50" stroke="#000" stroke-width="1.15" />
<line x1="146.50" y1="588.00" x2="146.50" y2="595.00" stroke="#000" stroke-width="1.15" />
<line x1="147.50" y1="588.00" x2="147.50" y2="595.00" stroke="#000" stroke-width="1.15" />
<line x1="151.50" y1="595.60" x2="151.50" y2="602.60" stroke="#000" stroke-width="1.15" />
<line x1="161.50" y1="610.60" x2="161.50" y2="617.60" stroke="#000" stroke-width="1.15" />
<line x1="203.50" y1="610.60" x2="203.50" y2="617.60" stroke="#000" stroke-width="1.15" />
<line x1="231.50" y1="628.75" x2="231.50" y2="635.75" stroke="#000" stroke-width="1.15" />
<line x1="236.50" y1="628.75" x2="236.50" y2="635.75" stroke="#000" stroke-width="1.15" />
<line x1="265.50" y1="638.75" x2="265.50" y2="645.75" stroke="#000" stroke-width="1.15" />
<line x1="288.50" y1="661.00" x2="288.50" y2="668.00" stroke="#000" stroke-width="1.15" />
<line x1="295.50" y1="661.00" x2="295.50" y2="668.00" stroke="#000" stroke-width="1.15" />
<line x1="297.50" y1="661.00" x2="297.50" y2="668.00" stroke="#000" stroke-width="1.15" />
<line x1="310.50" y1="661.00" x2="310.50" y2="668.00" stroke="#000" stroke-width="1.15" />
<line x1="321.50" y1="661.00" x2="321.50" y2="668.00" stroke="#000" stroke-width="1.15" />
<line x1="334.50" y1="661.00" x2="334.50" y2="668.00" stroke="#000" stroke-width="1.15" />
<line x1="379.50" y1="661.00" x2="379.50" y2="668.00" stroke="#000" stroke-width="1.15" />
<line x1="391.50" y1="661.00" x2="391.50" y2="668.00" stroke="#000" stroke-width="1.15" />
<line x1="398.50" y1="661.00" x2="398.50" y2="668.00" stroke="#000" stroke-width="1.15" />
<line x1="425.50" y1="661.00" x2="425.50" y2="668.00" stroke="#000" stroke-width="1.15" />
<line x1="63.30" y1="464.40" x2="79.60" y2="464.40" stroke="#000" stroke-width="1.7" />
<line x1="79.60" y1="463.70" x2="79.60" y2="494.80" stroke="#000" stroke-width="1.7" />
<line x1="81.70" y1="493.60" x2="82.80" y2="493.60" stroke="#000" stroke-width="1.7" />
<line x1="85.70" y1="494.80" x2="85.70" y2="509.90" stroke="#000" stroke-width="1.7" />
<line x1="85.70" y1="514.50" x2="85.70" y2="525.00" stroke="#000" stroke-width="1.7" />
<line x1="85.00" y1="525.00" x2="89.70" y2="525.00" stroke="#000" stroke-width="1.7" />
<line x1="89.20" y1="530.10" x2="89.20" y2="543.50" stroke="#000" stroke-width="1.7" />
<line x1="89.20" y1="546.60" x2="89.20" y2="554.30" stroke="#000" stroke-width="1.7" />
<line x1="88.50" y1="553.70" x2="100.60" y2="553.70" stroke="#000" stroke-width="1.7" />
<line x1="104.70" y1="553.70" x2="115.40" y2="553.70" stroke="#000" stroke-width="1.7" />
<line x1="114.70" y1="553.60" x2="114.70" y2="559.20" stroke="#000" stroke-width="1.7" />
<line x1="114.70" y1="562.70" x2="114.70" y2="578.80" stroke="#000" stroke-width="1.7" />
<line x1="113.70" y1="583.90" x2="114.80" y2="583.90" stroke="#000" stroke-width="1.7" />
<line x1="116.80" y1="583.90" x2="123.80" y2="583.90" stroke="#000" stroke-width="1.7" />
<line x1="123.20" y1="583.20" x2="123.20" y2="590.40" stroke="#000" stroke-width="1.7" />
<line x1="123.20" y1="594.40" x2="123.20" y2="610.60" stroke="#000" stroke-width="1.7" />
<line x1="123.10" y1="614.10" x2="139.20" y2="614.10" stroke="#000" stroke-width="1.7" />
<line x1="143.30" y1="614.10" x2="151.20" y2="614.10" stroke="#000" stroke-width="1.7" />
<line x1="150.50" y1="613.40" x2="150.50" y2="621.50" stroke="#000" stroke-width="1.7" />
<line x1="150.50" y1="626.20" x2="150.50" y2="641.20" stroke="#000" stroke-width="1.7" />
<line x1="151.90" y1="644.60" x2="167.60" y2="644.60" stroke="#000" stroke-width="1.7" />
<line x1="171.57" y1="644.60" x2="187.27" y2="644.60" stroke="#000" stroke-width="1.7" />
<line x1="191.24" y1="644.60" x2="206.94" y2="644.60" stroke="#000" stroke-width="1.7" />
<line x1="210.91" y1="644.60" x2="226.61" y2="644.60" stroke="#000" stroke-width="1.7" />
<line x1="230.58" y1="644.60" x2="246.28" y2="644.60" stroke="#000" stroke-width="1.7" />
<line x1="250.25" y1="644.60" x2="265.95" y2="644.60" stroke="#000" stroke-width="1.7" />
<line x1="269.92" y1="644.60" x2="285.62" y2="644.60" stroke="#000" stroke-width="1.7" />
<line x1="289.59" y1="644.60" x2="305.29" y2="644.60" stroke="#000" stroke-width="1.7" />
<line x1="309.26" y1="644.60" x2="324.96" y2="644.60" stroke="#000" stroke-width="1.7" />
<line x1="328.93" y1="644.60" x2="344.63" y2="644.60" stroke="#000" stroke-width="1.7" />
<line x1="348.60" y1="644.60" x2="364.30" y2="644.60" stroke="#000" stroke-width="1.7" />
<line x1="368.27" y1="644.60" x2="383.97" y2="644.60" stroke="#000" stroke-width="1.7" />
<line x1="387.94" y1="644.60" x2="403.64" y2="644.60" stroke="#000" stroke-width="1.7" />
<line x1="407.61" y1="644.60" x2="423.31" y2="644.60" stroke="#000" stroke-width="1.7" />
<line x1="427.28" y1="644.60" x2="431.90" y2="644.60" stroke="#000" stroke-width="1.7" />
<line x1="431.25" y1="644.00" x2="431.25" y2="655.00" stroke="#000" stroke-width="1.7" />
<line x1="431.25" y1="660.00" x2="431.25" y2="673.75" stroke="#000" stroke-width="1.7" />
<line x1="431.25" y1="680.00" x2="431.25" y2="695.00" stroke="#000" stroke-width="1.7" />
<line x1="431.25" y1="700.00" x2="431.25" y2="713.75" stroke="#000" stroke-width="1.7" />
<line x1="431.25" y1="719.50" x2="446.25" y2="719.50" stroke="#000" stroke-width="1.7" />
<line x1="451.25" y1="719.50" x2="458.10" y2="719.50" stroke="#000" stroke-width="1.7" />
<line x1="457.50" y1="719.50" x2="457.50" y2="725.60" stroke="#000" stroke-width="1.7" />
<line x1="331.50" y1="644.60" x2="331.50" y2="651.30" stroke="#000" stroke-width="1.15" />
<line x1="345.50" y1="644.60" x2="345.50" y2="651.30" stroke="#000" stroke-width="1.15" />
<line x1="357.50" y1="644.60" x2="357.50" y2="651.30" stroke="#000" stroke-width="1.15" />
</svg>
</body></html>
